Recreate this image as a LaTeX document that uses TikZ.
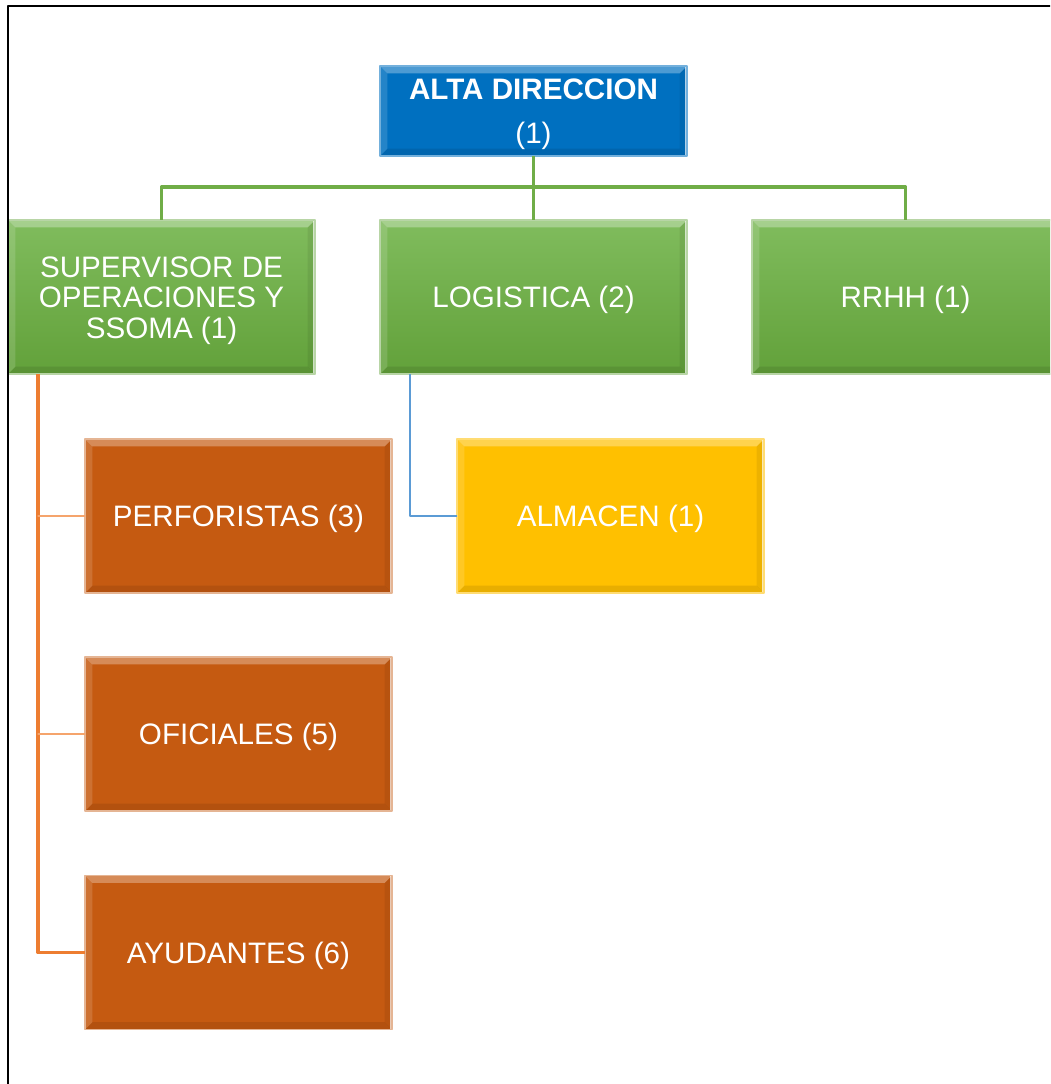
\documentclass[tikz,border=0pt]{standalone}
\usepackage{fontspec}
\setmainfont{Liberation Sans}
\definecolor{azulAlta}{HTML}{0070C0}
\definecolor{verdeArr}{HTML}{80BC5D}
\definecolor{verdeAba}{HTML}{62A13A}
\definecolor{naranjaCaja}{HTML}{C55A11}
\definecolor{amarilloCaja}{HTML}{FFC000}
\definecolor{verdeLinea}{HTML}{70AD47}
\definecolor{naranjaLinea}{HTML}{ED7D31}
\definecolor{naranjaFina}{HTML}{F5A46C}
\definecolor{azulLinea}{HTML}{5B9BD5}
\newcommand\alto{\rule{0pt}{20.7pt}}
\begin{document}
\begin{tikzpicture}[x=0.75pt,y=-0.75pt, line join=round, line cap=round]
		\tikzset{bisel/.style={path picture={
			\def\bw{5.5pt}
			\path (path picture bounding box.north west) coordinate (bNW)
			(path picture bounding box.north east) coordinate (bNE)
			(path picture bounding box.south west) coordinate (bSW)
			(path picture bounding box.south east) coordinate (bSE);
			\fill[white,opacity=.30] (bNW)--(bNE)--([shift={(-\bw,-\bw)}]bNE)--([shift={(\bw,-\bw)}]bNW)--cycle;
			\fill[white,opacity=.14] (bNW)--([shift={(\bw,-\bw)}]bNW)--([shift={(\bw,\bw)}]bSW)--(bSW)--cycle;
			\fill[black,opacity=.07] (bNE)--(bSE)--([shift={(-\bw,\bw)}]bSE)--([shift={(-\bw,-\bw)}]bNE)--cycle;
			\fill[black,opacity=.09] (bSW)--(bSE)--([shift={(-\bw,\bw)}]bSE)--([shift={(\bw,\bw)}]bSW)--cycle;
			\draw[white,opacity=.7,line width=1.2pt] ([xshift=-.6pt]bNE)--([xshift=-.6pt]bSE);
			}}}
		\tikzset{caja/.style={rectangle, inner sep=0pt, outer sep=0pt, minimum width=230.25pt, minimum height=115.5pt,
			text=white, align=center, font=\fontsize{22.2}{22.8}\selectfont, line width=.8pt, bisel}}
		\tikzset{cajaAlta/.style={caja, minimum height=67.5pt, fill=azulAlta, draw=azulAlta!55!white}}
		\tikzset{cajaVerde/.style={caja, top color=verdeArr, bottom color=verdeAba, draw=verdeAba!45!white}}
		\tikzset{cajaNaranja/.style={caja, fill=naranjaCaja, draw=naranjaCaja!45!white}}
		\tikzset{cajaAmarilla/.style={caja, fill=amarilloCaja, draw=amarilloCaja!55!white}}
		\tikzset{linVerde/.style={verdeLinea, line width=2.4pt, line cap=butt}}
		\useasboundingbox (0,0) rectangle (1050,1084);
		\begin{scope}
		\clip (0,0) rectangle (1050,1084);
		% cajas
		\node[cajaAlta] (alta) at (533.5,111) {\alto\textbf{ALTA DIRECCION}\\[10.5pt](1)};
		\node[cajaVerde] (sup) at (161.5,297) {\alto SUPERVISOR DE\\OPERACIONES Y\\SSOMA (1)};
		\node[cajaVerde] (log) at (533.5,297) {\alto LOGISTICA (2)};
		\node[cajaVerde] (rrhh) at (905.5,297) {\alto RRHH (1)};
		\node[cajaNaranja] (perf) at (238.5,516) {\alto PERFORISTAS (3)};
		\node[cajaAmarilla] (alm) at (610.5,516) {\alto ALMACEN (1)};
		\node[cajaNaranja] (ofi) at (238.5,734) {\alto OFICIALES (5)};
		\node[cajaNaranja] (ayu) at (238.5,952.5) {\alto AYUDANTES (6)};
		% conectores
		\coordinate (bus) at (533.5,187);
		\coordinate (ramalSup) at ([xshift=22.5pt]sup.south west);
		\coordinate (ramalLog) at ([xshift=22.5pt]log.south west);
		\draw[linVerde] (alta.south)--(log.north);
		\draw[linVerde] (sup.north)|-(bus)-|(rrhh.north);
		\draw[naranjaLinea, line width=2.6pt, line cap=butt] (ramalSup)|-(ayu.west);
		\draw[naranjaFina, line width=.9pt] (ramalSup|-perf.west)--(perf.west);
		\draw[naranjaFina, line width=.9pt] (ramalSup|-ofi.west)--(ofi.west);
		\draw[azulLinea, line width=1.7pt, line cap=butt] (ramalLog)|-(alm.west);
		% marco
		\draw[black, line width=1.5pt, line cap=butt] (8,1100)--(8,6)--(1060,6);
		\end{scope}
\end{tikzpicture}
\end{document}
